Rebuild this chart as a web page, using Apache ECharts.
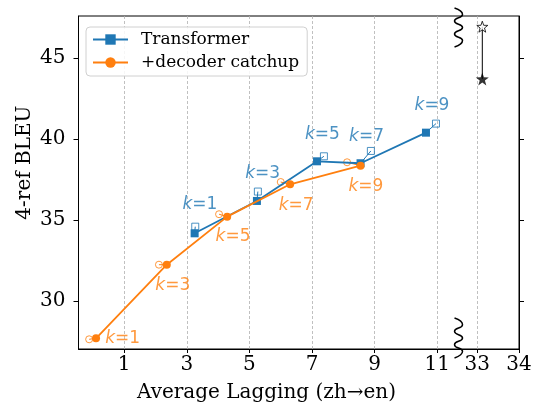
<!DOCTYPE html>
<html><head><meta charset="utf-8">
<script src="https://cdn.jsdelivr.net/npm/echarts@6/dist/echarts.min.js"></script>
<style>html,body{margin:0;padding:0;background:#fff}#c{width:540px;height:406px}</style>
</head><body><div id="c"></div>
<script>
// ---- data ----
const kLabels = ['1', '3', '5', '7', '9'];
const transformerX = [3.25, 5.24, 7.16, 8.55, 10.64];
const transformerY = [34.18, 36.18, 38.63, 38.51, 40.40];
const transformerRefX = [3.27, 5.27, 7.38, 8.88, 10.96];
const transformerRefY = [34.59, 36.76, 38.94, 39.27, 40.96];
const catchupX = [0.10, 2.36, 4.29, 6.30, 8.55];
const catchupY = [27.69, 32.24, 35.21, 37.21, 38.36];
const catchupRefX = [-0.12, 2.11, 4.03, 6.00, 8.12];
const catchupRefY = [27.63, 32.24, 35.36, 37.35, 38.57];
const starX = [33.12, 33.12];
const starY = [46.95, 43.72];
const xTickValues = [1, 3, 5, 7, 9, 11, 33, 34];
const yTickValues = [30, 35, 40, 45];

// ---- styles / layout ----
const BLUE = '#1f77b4', ORANGE = '#ff7f0e';
const blueLabelOffsets = [[4.7, -21.7], [4.8, -18.4], [-1.5, -22], [-4.3, -14.3], [-4, -17.7]];
const orangeLabelOffsets = [[33.5, -0.3], [13.8, 21.3], [14, 22.4], [15.5, 23.7], [18.9, 24.4]];

// broken x axis: left segment linear, right segment [32.55, 34] compressed after the break
const BREAK_T = 11.68, SEG2_X = 33, SEG2_T = 12.28, SEG2_SCALE = 1.332;
function tx(x) { return x < 20 ? x : SEG2_T + (x - SEG2_X) * SEG2_SCALE; }
const xMin = -0.46, xMax = tx(34);
const xTickT = xTickValues.map(tx);

function pairs(xs, ys) { return xs.map((x, i) => [tx(x), ys[i]]); }
function connectors(xa, ya, xb, yb) {
  const d = [];
  xa.forEach((x, i) => { d.push([tx(x), ya[i]], [tx(xb[i]), yb[i]], '-'); });
  return d;
}
function kLabel(color) {
  return {
    show: true, position: 'inside', fontFamily: 'DejaVu Sans', fontSize: 17, color: color,
    rich: { i: { fontStyle: 'italic', fontFamily: 'DejaVu Sans', fontSize: 17, color: color } }
  };
}
function refData(xs, ys, offsets, color) {
  return xs.map((x, i) => ({
    value: [tx(x), ys[i]],
    label: Object.assign(kLabel(color), { offset: offsets[i], formatter: '{i|k}=' + kLabels[i] })
  }));
}
const starPath = 'path://M0,-10L2.35,-3.24L9.51,-3.09L3.8,1.24L5.88,8.09L0,4.1L-5.88,8.09L-3.8,1.24L-9.51,-3.09L-2.35,-3.24Z';

const chart = echarts.init(document.getElementById('c'), null, { renderer: 'canvas' });
const yAxisBase = {
  type: 'value', min: 27.03, max: 47.61,
  axisLine: { show: true, onZero: false, lineStyle: { color: '#000', width: 1 } },
  axisTick: { show: true, inside: false, length: 5, customValues: yTickValues, lineStyle: { color: '#000' } },
  splitLine: { show: false }
};
const option = {
  animation: false,
  backgroundColor: '#fff',
  grid: { left: 78.5, right: 21, top: 16, bottom: 57, show: true, borderColor: '#000', borderWidth: 1, backgroundColor: 'transparent' },
  legend: {
    data: ['Transformer', '+decoder catchup'], orient: 'vertical', left: 86, top: 27,
    itemWidth: 35, itemHeight: 13, itemGap: 6, padding: [4, 8, 5, 6],
    borderColor: '#d0d0d0', borderWidth: 1, borderRadius: 4, backgroundColor: 'rgba(255,255,255,0.85)',
    textStyle: { fontFamily: 'DejaVu Serif', fontSize: 17, color: '#000', padding: [0, 0, 0, 8] }
  },
  xAxis: {
    type: 'value', min: xMin, max: xMax,
    axisLine: { show: true, onZero: false, lineStyle: { color: '#000', width: 1 } },
    axisTick: { show: true, inside: false, length: 4, customValues: xTickT, lineStyle: { color: '#000' } },
    axisLabel: {
      customValues: xTickT, margin: 6, fontFamily: 'DejaVu Serif', fontSize: 20, color: '#000',
      formatter: v => { const i = xTickT.findIndex(t => Math.abs(t - v) < 1e-6); return i >= 0 ? String(xTickValues[i]) : ''; }
    },
    splitLine: { show: true, lineStyle: { type: [3, 2], color: '#b0b0b0', width: 0.8 } }
  },
  yAxis: [
    Object.assign({}, yAxisBase, {
      position: 'left',
      axisLabel: { customValues: yTickValues, margin: 13, fontFamily: 'DejaVu Serif', fontSize: 20, color: '#000' }
    }),
    Object.assign({}, yAxisBase, { position: 'right', axisLabel: { show: false } })
  ],
  series: [
    { name: 'bconn', type: 'line', data: connectors(transformerX, transformerY, transformerRefX, transformerRefY),
      symbol: 'none', lineStyle: { color: BLUE, width: 1 }, silent: true, z: 2 },
    { name: 'oconn', type: 'line', data: connectors(catchupX, catchupY, catchupRefX, catchupRefY),
      symbol: 'none', lineStyle: { color: ORANGE, width: 1 }, silent: true, z: 2 },
    { name: 'bref', type: 'scatter', data: refData(transformerRefX, transformerRefY, blueLabelOffsets, BLUE),
      symbol: 'rect', symbolSize: 7, itemStyle: { color: 'rgba(255,255,255,0)', borderColor: BLUE, borderWidth: 1 }, z: 3 },
    { name: 'oref', type: 'scatter', data: refData(catchupRefX, catchupRefY, orangeLabelOffsets, ORANGE),
      symbol: 'circle', symbolSize: 7, itemStyle: { color: 'rgba(255,255,255,0)', borderColor: ORANGE, borderWidth: 1 }, z: 3 },
    { name: 'Transformer', type: 'line', data: pairs(transformerX, transformerY),
      symbol: 'rect', symbolSize: 8, showAllSymbol: true, color: BLUE, itemStyle: { color: BLUE },
      lineStyle: { color: BLUE, width: 1.8 }, z: 4 },
    { name: '+decoder catchup', type: 'line', data: pairs(catchupX, catchupY),
      symbol: 'circle', symbolSize: 8, showAllSymbol: true, color: ORANGE, itemStyle: { color: ORANGE },
      lineStyle: { color: ORANGE, width: 1.8 }, z: 5 },
    { name: 'starline', type: 'line', data: pairs(starX, starY), symbol: 'none',
      lineStyle: { color: '#000', width: 1 }, silent: true, z: 4 },
    { name: 'stars', type: 'scatter', z: 6,
      data: [
        { value: [tx(starX[0]), starY[0]], symbolSize: 11, itemStyle: { color: '#fff', borderColor: '#000', borderWidth: 1 } },
        { value: [tx(starX[1]), starY[1]], symbolSize: 13, itemStyle: { color: '#000' } }
      ], symbol: starPath }
  ]
};
chart.setOption(option);

// break marks & axis titles
function squiggle(cx, y0, y1) {
  const pts = [], n = 7;
  for (let i = 0; i < n; i++) pts.push([cx + (i % 2 === 0 ? -4 : 4), y0 + (y1 - y0) * i / (n - 1)]);
  return { type: 'polyline', shape: { points: pts, smooth: 0.6 }, style: { stroke: '#000', lineWidth: 1.5, fill: null }, z: 100 };
}
const topPx = chart.convertToPixel({ gridIndex: 0 }, [BREAK_T, 47.61]);
const botPx = chart.convertToPixel({ gridIndex: 0 }, [BREAK_T, 27.03]);
const leftEdge = chart.convertToPixel({ gridIndex: 0 }, [xMin, 27.03]);
const bx = topPx[0];
chart.setOption({
  graphic: [
    squiggle(bx, topPx[1] - 8, topPx[1] + 31),
    squiggle(bx, botPx[1] - 31, botPx[1] + 9),
    { type: 'text', x: (leftEdge[0] + bx) / 2 - 2, y: 393, style: { text: 'Average Lagging (zh→en)', font: '20px "DejaVu Serif"', fill: '#000', textAlign: 'center', textVerticalAlign: 'middle' } },
    { type: 'text', x: 25, y: 162.6, rotation: Math.PI / 2, style: { text: '4-ref BLEU', font: '20px "DejaVu Serif"', fill: '#000', textAlign: 'center', textVerticalAlign: 'middle' } }
  ]
});
</script></body></html>
